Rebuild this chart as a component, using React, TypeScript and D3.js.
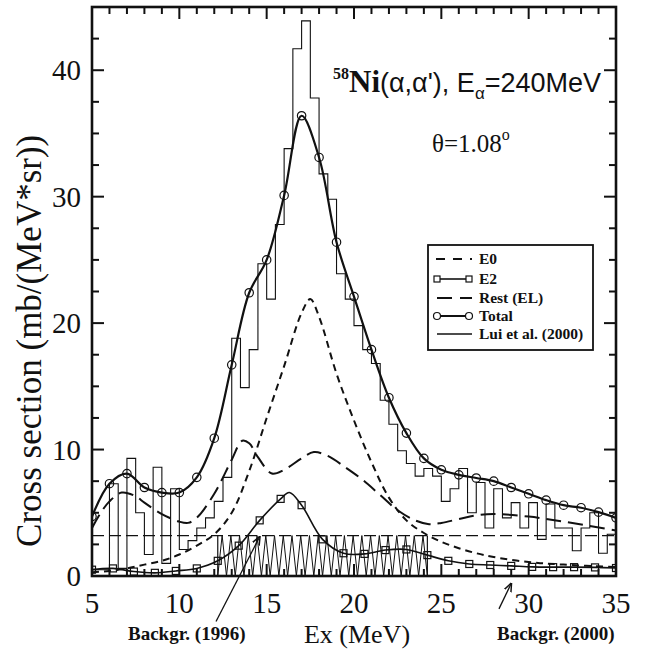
import * as d3 from 'd3'

// Lui et al. (2000) histogram, 0.5 MeV bins starting at 5 MeV
const histStart = 5
const histBin = 0.5
const histVals = [
  0.5, 0.5, 7.3, 0.6, 9.3, 5.0, 1.7, 8.6, 1.0, 6.9,
  2.1, 2.8, 3.8, 4.6, 5.9, 7.8, 18.8, 14.9, 17.9, 24.7,
  21.9, 27.8, 33.8, 41.7, 43.9, 37.8, 31.8, 29.8, 23.9, 21.9,
  19.8, 17.9, 16.8, 13.9, 12.0, 9.9, 8.9, 7.9, 8.5, 7.9,
  5.9, 6.9, 8.5, 5.0, 7.4, 3.8, 6.9, 4.6, 5.8, 3.8,
  5.8, 2.9, 5.7, 3.8, 3.8, 2.0, 3.8, 5.0, 1.8, 3.3,
]

// Total (circles)
const totalE = [5, 6, 7, 8, 9, 10, 11, 12, 13, 14, 15, 16, 17, 18, 19, 20, 21, 22, 23, 24, 25, 26, 27, 28, 29, 30, 31, 32, 33, 34, 35]
const totalV = [4.7, 7.3, 8.1, 7.0, 6.6, 6.6, 7.8, 10.9, 16.7, 22.4, 25.0, 30.1, 36.4, 33.1, 26.4, 22.1, 17.9, 14.1, 11.3, 9.3, 8.4, 8.0, 7.75, 7.5, 7.0, 6.5, 6.0, 5.6, 5.4, 5.05, 4.6]

// E2 (squares)
const e2E = [5, 6.2, 7.4, 8.6, 9.8, 11.0, 12.2, 13.4, 14.6, 15.8, 17.0, 18.2, 19.4, 20.6, 21.8, 23.0, 24.2, 25.4, 26.6, 27.8, 29.0, 30.2, 31.4, 32.6, 33.8, 35]
const e2V = [0.5, 0.6, 0.35, 0.25, 0.4, 0.6, 1.2, 2.4, 4.4, 6.1, 5.6, 2.9, 1.8, 1.75, 2.05, 2.1, 1.65, 1.2, 0.95, 0.87, 0.8, 0.72, 0.7, 0.7, 0.68, 0.63]
// extra reading at the top of the E2 bump
const e2PeakE = 16.3
const e2PeakV = 6.6

// E0 (short dashes)
const e0E = [5, 6, 7, 8, 9, 10, 11, 12, 13, 14, 15, 16, 17, 17.5, 18, 19, 20, 21, 22, 23, 24, 25, 26, 27, 28, 30, 32, 35]
const e0V = [0.3, 0.4, 0.6, 0.9, 1.2, 1.7, 2.4, 3.3, 5.0, 8.3, 12.5, 16.6, 20.8, 21.9, 20.5, 16.0, 12.3, 9.0, 6.2, 4.4, 3.4, 2.7, 2.2, 1.8, 1.5, 1.1, 0.9, 0.7]

// Rest (EL) (long dashes)
const restE = [5, 5.5, 6, 6.7, 7.5, 8, 9, 10, 10.5, 11, 12, 13, 13.6, 14, 14.5, 15.3, 16, 17, 17.7, 18.5, 19.5, 20.5, 21.5, 22.5, 23.5, 24.3, 25, 26, 27, 28, 30, 32, 35]
const restV = [3.8, 5.0, 5.9, 6.6, 6.3, 5.8, 4.9, 4.3, 4.2, 4.6, 6.5, 9.2, 10.7, 10.5, 9.4, 8.1, 8.4, 9.3, 9.8, 9.5, 8.6, 7.6, 6.4, 5.2, 4.4, 4.1, 4.2, 4.5, 4.8, 4.9, 4.7, 4.3, 3.6]

// backgrounds
const bg1996 = { from: 12.2, to: 24.2, level: 3.2, zig: 0.5 }
const bg2000Level = 3.2

const xTicks = [5, 10, 15, 20, 25, 30, 35]
const yTicks = [0, 10, 20, 30, 40]

const legendItems = ['E0', 'E2', 'Rest (EL)', 'Total', 'Lui et al. (2000)']

const serif = "'Liberation Serif', 'Times New Roman', serif"
const sans = "'Liberation Sans', Arial, sans-serif"

export default function App() {
  const x = d3.scaleLinear().domain([5, 35]).range([92, 616])
  const y = d3.scaleLinear().domain([0, 45]).range([576, 7])

  const smooth = d3.line<[number, number]>().x(d => x(d[0])).y(d => y(d[1])).curve(d3.curveCatmullRom.alpha(0.5))
  const straight = d3.line<[number, number]>().x(d => x(d[0])).y(d => y(d[1]))

  const histPts: [number, number][] = histVals.map((v, i) => [histStart + i * histBin, v])
  histPts.push([histStart + histVals.length * histBin, histVals[histVals.length - 1]])
  const histPath = d3.line<[number, number]>().x(d => x(d[0])).y(d => y(d[1])).curve(d3.curveStepAfter)(histPts)

  const totalPts: [number, number][] = totalE.map((e, i) => [e, totalV[i]])
  const e2Marks: [number, number][] = e2E.map((e, i) => [e, e2V[i]])
  const e2Pts = [...e2Marks, [e2PeakE, e2PeakV] as [number, number]].sort((a, b) => a[0] - b[0])
  const e0Pts: [number, number][] = e0E.map((e, i) => [e, e0V[i]])
  const restPts: [number, number][] = restE.map((e, i) => [e, restV[i]])

  // zigzag hatch of the 1996 background
  const nz = Math.round((bg1996.to - bg1996.from) / (bg1996.zig / 2))
  const zigPts: [number, number][] = d3.range(nz + 1).map(i => [bg1996.from + i * bg1996.zig / 2, i % 2 ? bg1996.level : 0])

  const xMinor = d3.range(5, 35.01, 1)
  const yMinor = d3.range(0, 45.01, 2.5)
  const [x0, x1] = x.range()
  const [y0, y1] = y.range()

  const lg = { x: 428, y: 245, w: 165, h: 105 }
  const rowY = [259, 279, 298, 316, 334]

  return (
    <svg width={648} height={652} style={{ position: 'absolute', left: 0, top: 0, background: '#fff' }}>
      <defs>
        <marker id="ah" viewBox="0 0 10 10" refX="9" refY="5" markerWidth="7" markerHeight="7" orient="auto">
          <path d="M0,1 L10,5 L0,9" fill="none" stroke="#111" strokeWidth="1.6" />
        </marker>
        <clipPath id="plot"><rect x={x0} y={y1} width={x1 - x0} height={y0 - y1} /></clipPath>
      </defs>

      <g clipPath="url(#plot)" fill="none" stroke="#111">
        {/* backgrounds */}
        <line x1={x0} x2={x1} y1={y(bg2000Level)} y2={y(bg2000Level)} strokeWidth={1.2} strokeDasharray="12,5" />
        <path d={straight(zigPts) ?? ''} strokeWidth={1} />
        <line x1={x(bg1996.from)} x2={x(bg1996.from)} y1={y(0)} y2={y(bg1996.level)} strokeWidth={1.2} />
        <line x1={x(bg1996.to)} x2={x(bg1996.to)} y1={y(0)} y2={y(bg1996.level)} strokeWidth={1.2} />

        {/* histogram */}
        <path d={histPath ?? ''} strokeWidth={1.1} />

        {/* components */}
        <path d={smooth(e0Pts) ?? ''} strokeWidth={2} strokeDasharray="7,5" />
        <path d={smooth(restPts) ?? ''} strokeWidth={2} strokeDasharray="15,7" />
        <path d={smooth(e2Pts) ?? ''} strokeWidth={1.6} />
        {e2Marks.map((d, i) => (
          <rect key={i} x={x(d[0]) - 3.5} y={y(d[1]) - 3.5} width={7} height={7} strokeWidth={1.2} />
        ))}
        <path d={smooth(totalPts) ?? ''} strokeWidth={2.2} />
        {totalPts.map((d, i) => (
          <circle key={i} cx={x(d[0])} cy={y(d[1])} r={4.2} strokeWidth={1.2} />
        ))}
      </g>

      {/* frame and ticks */}
      <g stroke="#111" fill="none">
        {xMinor.map(t => {
          const major = xTicks.includes(t)
          const l = major ? 12 : 7
          return (
            <g key={'x' + t}>
              <line x1={x(t)} x2={x(t)} y1={y0} y2={y0 - l} strokeWidth={2} />
              <line x1={x(t)} x2={x(t)} y1={y1} y2={y1 + l} strokeWidth={2} />
            </g>
          )
        })}
        {yMinor.map(t => {
          const major = yTicks.includes(t)
          const l = major ? 12 : 7
          return (
            <g key={'y' + t}>
              <line x1={x0} x2={x0 + l} y1={y(t)} y2={y(t)} strokeWidth={2} />
              <line x1={x1} x2={x1 - l} y1={y(t)} y2={y(t)} strokeWidth={2} />
            </g>
          )
        })}
        <rect x={x0} y={y1} width={x1 - x0} height={y0 - y1} strokeWidth={2.6} />
      </g>

      {/* tick labels */}
      <g fontFamily={serif} fontSize={29} fill="#111">
        {xTicks.map(t => (
          <text key={t} x={x(t)} y={y0 + 37} textAnchor="middle">{t}</text>
        ))}
        {yTicks.map(t => (
          <text key={t} x={x0 - 11} y={y(t) + 10} textAnchor="end">{t}</text>
        ))}
      </g>

      {/* axis titles */}
      <text x={357} y={643} textAnchor="middle" fontFamily={serif} fontSize={26} fill="#111">Ex (MeV)</text>
      <text transform={`translate(41,${y(18.6)}) rotate(-90)`} textAnchor="middle" fontFamily={serif} fontSize={35} fill="#111">Cross section (mb/(MeV*sr))</text>

      {/* title */}
      <text x={333} y={92} fill="#111">
        <tspan fontFamily={serif} fontWeight="bold" fontSize={16} dy={-13}>58</tspan>
        <tspan fontFamily={serif} fontWeight="bold" fontSize={31} dy={13}>Ni</tspan>
        <tspan fontFamily={sans} fontSize={27}>(α,α'), E</tspan>
        <tspan fontFamily={sans} fontSize={17} dy={7}>α</tspan>
        <tspan fontFamily={sans} fontSize={27} dy={-7}>=240MeV</tspan>
      </text>
      <text x={432} y={152} fill="#111" fontFamily={serif} fontSize={25}>
        θ=1.08<tspan fontSize={16} dy={-12}>o</tspan>
      </text>

      {/* legend */}
      <g>
        <rect x={lg.x} y={lg.y} width={lg.w} height={lg.h} fill="#fff" stroke="#111" strokeWidth={1.8} />
        <g stroke="#111" fill="none">
          <line x1={436} x2={472} y1={rowY[0]} y2={rowY[0]} strokeWidth={2} strokeDasharray="9,8" />
          <line x1={437} x2={469} y1={rowY[1]} y2={rowY[1]} strokeWidth={1.6} />
          <rect x={434} y={rowY[1] - 3} width={6} height={6} strokeWidth={1.2} fill="#fff" />
          <rect x={466} y={rowY[1] - 3} width={6} height={6} strokeWidth={1.2} fill="#fff" />
          <line x1={437} x2={472} y1={rowY[2]} y2={rowY[2]} strokeWidth={2} strokeDasharray="15,8" />
          <line x1={437} x2={469} y1={rowY[3]} y2={rowY[3]} strokeWidth={2} />
          <circle cx={437} cy={rowY[3]} r={3.5} strokeWidth={1.2} fill="#fff" />
          <circle cx={469} cy={rowY[3]} r={3.5} strokeWidth={1.2} fill="#fff" />
          <line x1={437} x2={472} y1={rowY[4]} y2={rowY[4]} strokeWidth={1.4} />
        </g>
        <g fontFamily={serif} fontWeight="bold" fontSize={15.5} fill="#111">
          {legendItems.map((t, i) => (
            <text key={t} x={479} y={rowY[i] + 5}>{t}</text>
          ))}
        </g>
      </g>

      {/* background annotations */}
      <line x1={x(12.1)} y1={y(-3.6)} x2={x(14.6)} y2={y(3.1)} stroke="#111" strokeWidth={1.3} markerEnd="url(#ah)" />
      <text x={128} y={640} fontFamily={serif} fontWeight="bold" fontSize={19} fill="#111">Backgr. (1996)</text>
      <line x1={x(28.3)} y1={y(-2.6)} x2={x(29.0)} y2={y(-0.6)} stroke="#111" strokeWidth={1.3} markerEnd="url(#ah)" />
      <text x={497} y={640} fontFamily={serif} fontWeight="bold" fontSize={19} fill="#111">Backgr. (2000)</text>
    </svg>
  )
}
